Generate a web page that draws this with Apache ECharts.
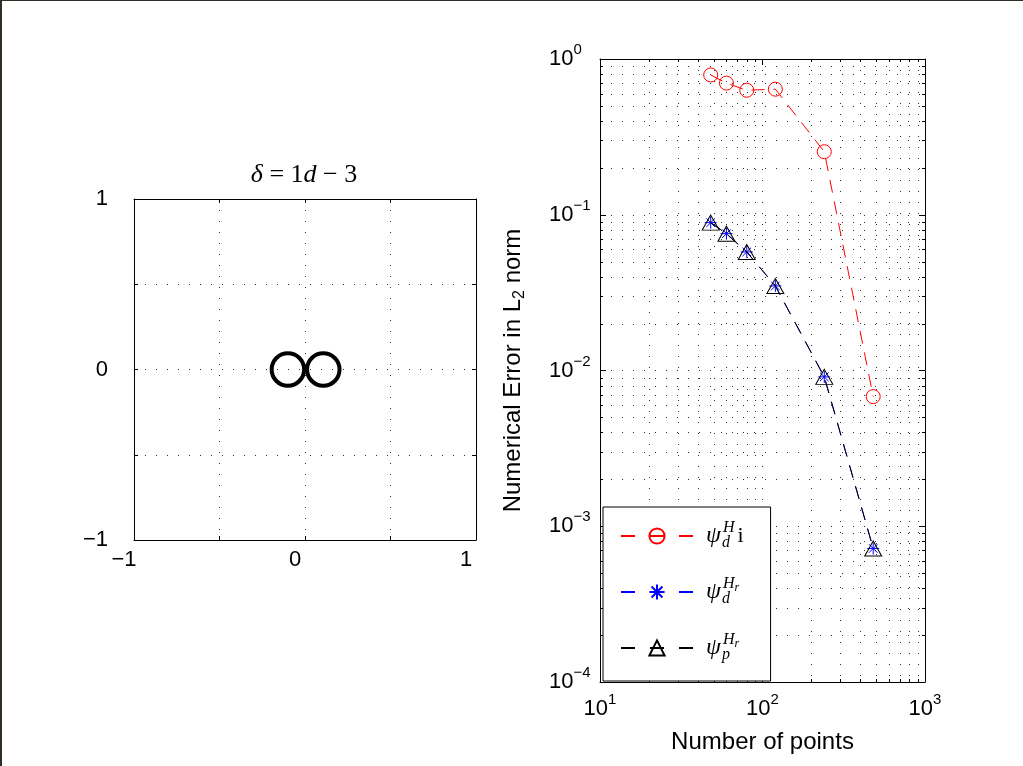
<!DOCTYPE html>
<html>
<head>
<meta charset="utf-8">
<title>Numerical error vs number of points</title>
<script src="https://cdn.jsdelivr.net/npm/echarts@6/dist/echarts.min.js"></script>
<style>
html, body { margin: 0; padding: 0; background: #fff; }
#main { width: 1023px; height: 766px; }
.edge-l { position: absolute; left: 0; top: 0; width: 2px; height: 766px; background: #2d3125; }
.edge-t { position: absolute; left: 0; top: 0; width: 1023px; height: 1px; background: #2d3125; }
</style>
</head>
<body>
<div id="main"></div>
<div class="edge-l"></div><div class="edge-t"></div>
<script>
//left panel : the two loops of the figure eight (centre x, centre y, radius)
var loopCenterX = [-0.1, 0.107];
var loopCenterY = [0, 0];
var loopRadius = [0.095, 0.095];

//right panel : error against number of points
var nPoints = [48, 60, 80, 120, 240, 480];
var errPsiDH = [0.79, 0.70, 0.63, 0.64, 0.254, 0.0068];
var errPsiDHr = [0.089, 0.0756, 0.0577, 0.0349, 0.0091, 0.00072];
var errPsiPHr = [0.089, 0.0756, 0.0577, 0.0349, 0.0091, 0.00072];
var seriesNames = ['psi_d^H i', 'psi_d^Hr', 'psi_p^Hr'];

//minor grid of the log plot
var xMinor = [20, 30, 40, 50, 60, 70, 80, 90, 200, 300, 400, 500, 600, 700, 800, 900];
var yMinor = [0.0002, 0.0003, 0.0004, 0.0005, 0.0006, 0.0007, 0.0008, 0.0009,
    0.002, 0.003, 0.004, 0.005, 0.006, 0.007, 0.008, 0.009,
    0.02, 0.03, 0.04, 0.05, 0.06, 0.07, 0.08, 0.09,
    0.2, 0.3, 0.4, 0.5, 0.6, 0.7, 0.8, 0.9];

var SANS = 'Liberation Sans';
var SERIF = 'Liberation Serif';
var DOTS = '#333';

function zip(a, b) {
    var out = [];
    for (var i = 0; i < a.length; i++) out.push([a[i], b[i]]);
    return out;
}

//only the integers get a label on the left panel
function intLabel(v) {
    if (v % 1 !== 0) return '';
    return String(v).replace('-', '\u2212');
}

function powLabel(v) {
    var e = Math.round(Math.log(v) / Math.LN10);
    return '{b|10}{e|' + String(e).replace('-', '\u2212') + '}';
}

var powRich = {
    b: { fontFamily: SANS, fontSize: 22, lineHeight: 26, color: '#000' },
    e: { fontFamily: SANS, fontSize: 15, lineHeight: 16, color: '#000', padding: [0, 0, 18, 0] }
};

var legendText = {
    'psi_d^H i': '{psi|\u03c8}{sub|d}{sup|H}{rm|i}',
    'psi_d^Hr': '{psi|\u03c8}{sub|d}{sup|H}{ssub|r}',
    'psi_p^Hr': '{psi|\u03c8}{sub|p}{sup|H}{ssub|r}'
};

function renderLoop(params, api) {
    var c = api.coord([api.value(0), api.value(1)]);
    var r = api.size([api.value(2), 0])[0];
    return {
        type: 'circle',
        shape: { cx: c[0], cy: c[1], r: r },
        style: { fill: 'none', stroke: '#000', lineWidth: 4 }
    };
}

function renderMinorX(params, api) {
    var cs = params.coordSys;
    var x = Math.round(api.coord([api.value(0), api.value(1)])[0]) + 0.5;
    var top = cs.y, bot = cs.y + cs.height;
    return {
        type: 'group',
        children: [
            { type: 'line', shape: { x1: x, y1: top, x2: x, y2: bot }, style: { stroke: DOTS, lineWidth: 1, lineDash: [1, 10] } },
            { type: 'line', shape: { x1: x, y1: bot, x2: x, y2: bot - 3 }, style: { stroke: '#000', lineWidth: 1 } },
            { type: 'line', shape: { x1: x, y1: top, x2: x, y2: top + 3 }, style: { stroke: '#000', lineWidth: 1 } }
        ]
    };
}

function renderMinorY(params, api) {
    var cs = params.coordSys;
    var y = Math.round(api.coord([api.value(0), api.value(1)])[1]) + 0.5;
    var left = cs.x, right = cs.x + cs.width;
    return {
        type: 'group',
        children: [
            { type: 'line', shape: { x1: left, y1: y, x2: right, y2: y }, style: { stroke: DOTS, lineWidth: 1, lineDash: [1, 10] } },
            { type: 'line', shape: { x1: left, y1: y, x2: left + 3, y2: y }, style: { stroke: '#000', lineWidth: 1 } },
            { type: 'line', shape: { x1: right, y1: y, x2: right - 3, y2: y }, style: { stroke: '#000', lineWidth: 1 } }
        ]
    };
}

var boxLine = { onZero: false, lineStyle: { color: '#000', width: 1 } };
var dotted = { show: true, lineStyle: { color: DOTS, width: 1, type: [1, 10] } };

function linAxis(grid, pos, labels) {
    var ax = {
        gridIndex: grid, type: 'value', min: -1, max: 1, interval: 0.5, position: pos,
        axisLine: boxLine,
        axisTick: { show: true, inside: true, length: 4, lineStyle: { color: '#000' } },
        axisLabel: { show: false },
        splitLine: { show: false }
    };
    if (labels) {
        ax.splitLine = dotted;
        ax.axisLabel = labels;
    }
    return ax;
}

function logAxis(grid, pos, lo, hi, labels) {
    var ax = {
        gridIndex: grid, type: 'log', logBase: 10, min: lo, max: hi, position: pos,
        axisLine: boxLine,
        axisTick: { show: true, inside: true, length: 6, lineStyle: { color: '#000' } },
        axisLabel: { show: false },
        splitLine: { show: false }
    };
    if (labels) {
        ax.splitLine = dotted;
        ax.axisLabel = labels;
    }
    return ax;
}

var xBottomLog = logAxis(1, 'bottom', 10, 1000, { formatter: powLabel, rich: powRich, margin: 14 });
xBottomLog.name = 'Number of points';
xBottomLog.nameLocation = 'middle';
xBottomLog.nameGap = 45;
xBottomLog.nameTextStyle = { fontFamily: SANS, fontSize: 24, color: '#000' };

var yLeftLog = logAxis(1, 'left', 0.0001, 1, { formatter: powLabel, rich: powRich, margin: 51, align: 'left' });
yLeftLog.name = 'Numerical Error in L{s|2} norm';
yLeftLog.nameLocation = 'middle';
yLeftLog.nameGap = 75;
yLeftLog.nameTextStyle = {
    fontFamily: SANS, fontSize: 24, color: '#000',
    rich: { s: { fontFamily: SANS, fontSize: 16, lineHeight: 16, color: '#000', padding: [14, 0, 0, 0] } }
};

var dash = [13, 9];

var myChart = echarts.init(document.getElementById('main'));

myChart.setOption({
    animation: false,
    backgroundColor: '#fff',
    graphic: [{
        type: 'text',
        x: 304, y: 175,
        style: {
            text: '{i|\u03b4} = 1{i|d} \u2212 3',
            align: 'center', verticalAlign: 'middle',
            fontFamily: SERIF, fontSize: 26, fill: '#000',
            rich: { i: { fontFamily: SERIF, fontStyle: 'italic', fontSize: 26 } }
        }
    }],
    grid: [
        { left: 134, top: 199, width: 342, height: 341, outerBoundsMode: 'none' },
        { left: 600, top: 59, width: 325, height: 623, outerBoundsMode: 'none' }
    ],
    xAxis: [
        linAxis(0, 'bottom', { formatter: intLabel, color: '#000', fontFamily: SANS, fontSize: 22, margin: 9, padding: [0, 20, 0, 0] }),
        linAxis(0, 'top', null),
        xBottomLog,
        logAxis(1, 'top', 10, 1000, null)
    ],
    yAxis: [
        linAxis(0, 'left', { formatter: intLabel, color: '#000', fontFamily: SANS, fontSize: 22, margin: 26 }),
        linAxis(0, 'right', null),
        yLeftLog,
        logAxis(1, 'right', 0.0001, 1, null)
    ],
    legend: {
        data: seriesNames,
        orient: 'vertical',
        left: 603, top: 507,
        itemWidth: 72, itemHeight: 19, itemGap: 24,
        padding: [13, 27, 17, 17],
        backgroundColor: '#fff', borderColor: '#000', borderWidth: 1, borderRadius: 0,
        selectedMode: false,
        lineStyle: { type: [14, 15, 14, 15, 14] },
        formatter: function (name) { return legendText[name]; },
        textStyle: {
            color: '#000',
            rich: {
                psi: { fontFamily: SERIF, fontStyle: 'italic', fontSize: 24, lineHeight: 34, padding: [0, 1, 0, 8], color: '#000' },
                sub: { fontFamily: SERIF, fontStyle: 'italic', fontSize: 16, lineHeight: 16, width: 1, padding: [14, 0, 0, 0], color: '#000' },
                sup: { fontFamily: SERIF, fontStyle: 'italic', fontSize: 16, lineHeight: 16, padding: [0, 0, 16, 0], color: '#000' },
                ssub: { fontFamily: SERIF, fontStyle: 'italic', fontSize: 12, lineHeight: 12, padding: [0, 0, 8, 0], color: '#000' },
                rm: { fontFamily: SERIF, fontSize: 22, padding: [0, 0, 0, 3], color: '#000' }
            }
        }
    },
    series: [
        {
            type: 'custom', xAxisIndex: 0, yAxisIndex: 0, z: 3, silent: true,
            renderItem: renderLoop,
            data: loopCenterX.map(function (x, i) { return [x, loopCenterY[i], loopRadius[i]]; })
        },
        {
            type: 'custom', xAxisIndex: 2, yAxisIndex: 2, z: 1, silent: true,
            renderItem: renderMinorX,
            data: xMinor.map(function (v) { return [v, 1]; })
        },
        {
            type: 'custom', xAxisIndex: 2, yAxisIndex: 2, z: 1, silent: true,
            renderItem: renderMinorY,
            data: yMinor.map(function (v) { return [10, v]; })
        },
        {
            name: seriesNames[0], type: 'line', xAxisIndex: 2, yAxisIndex: 2, z: 3,
            data: zip(nPoints, errPsiDH),
            symbol: 'circle', symbolSize: 14,
            itemStyle: { color: 'transparent', borderColor: '#ff0000', borderWidth: 1 },
            lineStyle: { color: '#ff0000', width: 1, type: dash }
        },
        {
            name: seriesNames[1], type: 'line', xAxisIndex: 2, yAxisIndex: 2, z: 3,
            data: zip(nPoints, errPsiDHr),
            symbol: 'path://M0,-6L0,6M-6,0L6,0M-4.3,-4.3L4.3,4.3M-4.3,4.3L4.3,-4.3', symbolSize: 12,
            itemStyle: { color: 'transparent', borderColor: '#0000ff', borderWidth: 1 },
            lineStyle: { color: '#0000ff', width: 1, type: dash }
        },
        {
            name: seriesNames[2], type: 'line', xAxisIndex: 2, yAxisIndex: 2, z: 4,
            data: zip(nPoints, errPsiPHr),
            symbol: 'triangle', symbolSize: [17, 15],
            itemStyle: { color: 'transparent', borderColor: '#000', borderWidth: 1 },
            lineStyle: { color: '#000', width: 1, type: dash }
        }
    ]
});
</script>
</body>
</html>
